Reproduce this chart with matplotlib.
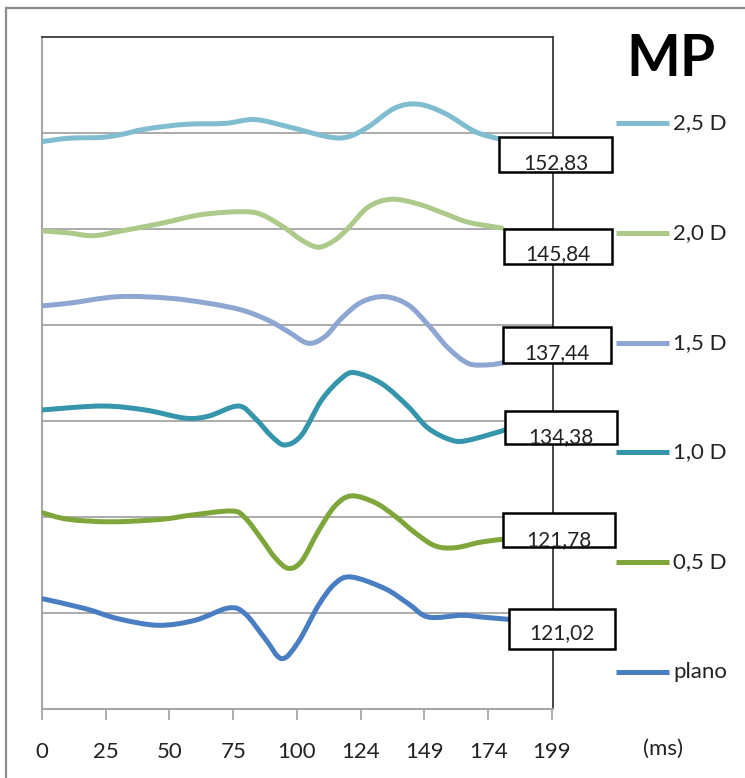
import matplotlib

matplotlib.use("Agg")
import matplotlib.pyplot as plt  # noqa: E402
from matplotlib.lines import Line2D  # noqa: E402
from matplotlib.patches import PathPatch, Rectangle  # noqa: E402
from matplotlib.path import Path  # noqa: E402

plt.rcParams["font.family"] = ["Lato", "DejaVu Sans"]

# stacked traces, each one offset by one grid step (ms on x)
SERIES = ["2,5 D", "2,0 D", "1,5 D", "1,0 D", "0,5 D", "plano"]
COLORS = ["#80bdd0", "#adca8a", "#8ea6d2", "#3495ab", "#7ea63b", "#4a7ec3"]
PEAK_LABELS = ["152,83", "145,84", "137,44", "134,38", "121,78", "121,02"]

x_25 = [0, 10.3, 23.4, 31.2, 40.4, 56, 71.8, 83.5, 96.6, 112.3, 120, 128,
        138.4, 147.6, 158, 169.8, 179]
y_25 = [5.91, 5.945, 5.955, 5.985, 6.04, 6.09, 6.10, 6.14, 6.065, 5.96, 5.96,
        6.065, 6.26, 6.30, 6.205, 6.015, 5.94]

x_20 = [0, 10.3, 20.1, 31.2, 46.9, 62.6, 78.3, 86.1, 95.3, 101.8, 108.4,
        114.9, 120.1, 128, 137.1, 147.6, 158, 167.2, 180.3]
y_20 = [4.98, 4.96, 4.93, 4.98, 5.06, 5.15, 5.18, 5.15, 5.01, 4.885, 4.81,
        4.885, 5.01, 5.23, 5.31, 5.26, 5.16, 5.07, 5.01]

x_15 = [0, 10.3, 29.9, 49.5, 65.2, 78.3, 88.7, 96.6, 104.4, 111, 117.5,
        125.4, 134.5, 143.6, 151.5, 159.3, 167.2, 175, 181.6]
y_15 = [4.20, 4.226, 4.295, 4.28, 4.226, 4.156, 4.05, 3.93, 3.81, 3.88, 4.07,
        4.24, 4.295, 4.21, 4.0, 3.76, 3.60, 3.585, 3.61]

x_10 = [0, 23.4, 40.4, 56.1, 65.2, 77, 83.5, 90.1, 95.3, 101.8, 109.7, 117.5,
        122.7, 133.2, 143.6, 151.5, 160.7, 167.2, 181.6]
y_10 = [3.115, 3.156, 3.115, 3.03, 3.05, 3.156, 3.03, 2.84, 2.75, 2.854,
        3.22, 3.445, 3.503, 3.39, 3.15, 2.924, 2.80, 2.80, 2.906]

x_05 = [0, 10.3, 27.3, 46.9, 58.7, 74.4, 79.6, 86.1, 91.4, 96.6, 101.8,
        108.4, 114.9, 121.4, 130.6, 138.4, 146.3, 154.1, 162, 172.4, 181.6]
y_05 = [2.045, 1.976, 1.95, 1.976, 2.02, 2.0625, 1.993, 1.77, 1.576, 1.465,
        1.54, 1.854, 2.115, 2.22, 2.15, 2.01, 1.836, 1.70, 1.68, 1.74, 1.77]

x_pl = [0, 16.9, 29.9, 45.6, 60, 73.1, 79.6, 87.5, 94, 100.5, 108.4, 114.9,
        121.4, 134.5, 143.6, 151.5, 164.6, 172.4, 182.9]
y_pl = [1.15, 1.046, 0.94, 0.872, 0.924, 1.052, 0.994, 0.733, 0.525, 0.698,
        1.08, 1.306, 1.375, 1.254, 1.098, 0.958, 0.976, 0.958, 0.934]

XS = [x_25, x_20, x_15, x_10, x_05, x_pl]
YS = [y_25, y_20, y_15, y_10, y_05, y_pl]

TICKS = [0, 25, 50, 75, 100, 125, 150, 175, 200]
TICK_LABELS = ["0", "25", "50", "75", "100", "124", "149", "174", "199"]


def smooth_path(xs, ys):
    """Bezier path through the points, Excel 'smoothed line' style."""
    pts = list(zip(xs, ys))
    verts = [pts[0]]
    codes = [Path.MOVETO]
    n = len(pts)
    for i in range(n - 1):
        p0 = pts[i - 1] if i > 0 else pts[i]
        p1, p2 = pts[i], pts[i + 1]
        p3 = pts[i + 2] if i + 2 < n else pts[i + 1]
        c1 = (p1[0] + (p2[0] - p0[0]) / 6, p1[1] + (p2[1] - p0[1]) / 6)
        c2 = (p2[0] - (p3[0] - p1[0]) / 6, p2[1] - (p3[1] - p1[1]) / 6)
        verts += [c1, c2, p2]
        codes += [Path.CURVE4] * 3
    return Path(verts, codes)


W, H = 745, 778
fig = plt.figure(figsize=(W / 100, H / 100), dpi=100)

# outer chart frame (runs off the right and bottom edges)
fig.add_artist(Rectangle((6 / W, -0.05), 1.2, 1 - 8 / H + 0.05,
                         transform=fig.transFigure, fill=False,
                         edgecolor="#8c8c8c", lw=1.6))

ax = fig.add_axes([42 / W, (H - 709) / H, (553 - 42) / W, (709 - 37) / H])
ax.set_xlim(0, 200.4)
ax.set_ylim(0, 7)
ax.set_yticks([])
ax.set_xticks(TICKS)
ax.set_xticklabels(TICK_LABELS, fontsize=16, color="#222222")
ax.tick_params(axis="x", direction="out", length=8, width=1.2,
               color="#a0a0a0", pad=16)
for side in ("left", "bottom"):
    ax.spines[side].set_color("#a6a6a6")
    ax.spines[side].set_linewidth(1.5)
for side in ("top", "right"):
    ax.spines[side].set_color("#3a3a3a")
    ax.spines[side].set_linewidth(1.3)

for g in range(1, 7):
    ax.axhline(g, color="#ababab", lw=1.4, zorder=1)

for xs, ys, col in zip(XS, YS, COLORS):
    ax.add_patch(PathPatch(smooth_path(xs, ys), fill=False, edgecolor=col,
                           lw=3.6, capstyle="round", joinstyle="round",
                           zorder=3))

# value boxes at the end of each trace (pixel boxes, text sits low)
BOXES = [(499, 137, 612, 172, 163), (504, 229, 612, 264, 254),
         (503, 327, 611, 363, 353), (505, 411, 617, 444, 437),
         (503, 513, 615, 547, 540), (509, 609, 615, 649, 633)]
for (x0, y0, x1, y1, ty), txt in zip(BOXES, PEAK_LABELS):
    fig.add_artist(Rectangle((x0 / W, 1 - y1 / H), (x1 - x0) / W,
                             (y1 - y0) / H, transform=fig.transFigure,
                             facecolor="white", edgecolor="black", lw=1.8,
                             zorder=5))
    fig.text((x0 + x1) / 2 / W, 1 - ty / H, txt, ha="center", va="center",
             fontsize=15, color="#222222", zorder=6)

# legend on the right
LEG_Y = [123, 233, 343, 452, 562, 672]
for ly, lab, col in zip(LEG_Y, SERIES, COLORS):
    fig.add_artist(Line2D([616 / W, 669 / W], [1 - ly / H] * 2,
                          transform=fig.transFigure, color=col, lw=3.6,
                          solid_capstyle="butt"))
    fig.text(673 / W, 1 - ly / H, lab, ha="left", va="center",
             fontsize=16, color="#222222")

fig.text(671 / W, 1 - 60 / H, "MP", ha="center", va="center",
         fontsize=41, fontweight="bold", color="black")
fig.text(663 / W, 1 - 749 / H, "(ms)", ha="center", va="center",
         fontsize=16, color="#222222")

fig.savefig("out.png", dpi=100, facecolor="white")
